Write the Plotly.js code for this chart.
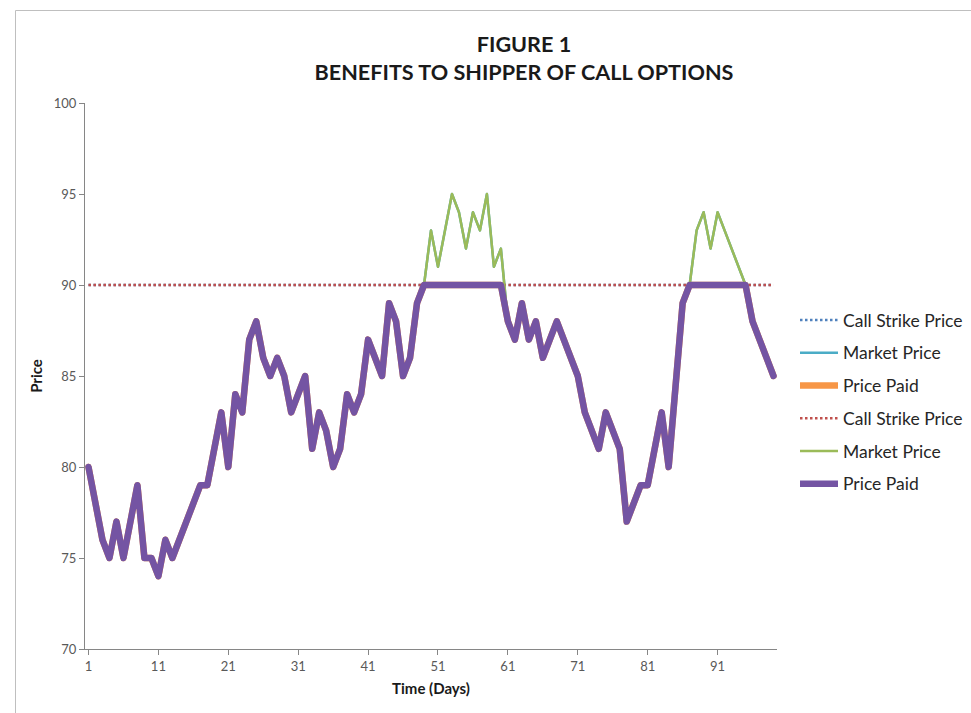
<!DOCTYPE html>
<html>
<head>
<meta charset="utf-8">
<script src="https://cdn.plot.ly/plotly-3.0.1.min.js"></script>
<style>
  html, body { margin: 0; padding: 0; background: #ffffff; }
  #chart { width: 971px; height: 713px; }
  .scatterlayer .js-line { stroke-linejoin: round; }
  .scatterlayer .trace.solid .js-line { stroke-linecap: round; }
</style>
</head>
<body>
<div id="chart"></div>
<script>
// Trading days
const days = [
   1,  2,  3,  4,  5,  6,  7,  8,  9, 10,
  11, 12, 13, 14, 15, 16, 17, 18, 19, 20,
  21, 22, 23, 24, 25, 26, 27, 28, 29, 30,
  31, 32, 33, 34, 35, 36, 37, 38, 39, 40,
  41, 42, 43, 44, 45, 46, 47, 48, 49, 50,
  51, 52, 53, 54, 55, 56, 57, 58, 59, 60,
  61, 62, 63, 64, 65, 66, 67, 68, 69, 70,
  71, 72, 73, 74, 75, 76, 77, 78, 79, 80,
  81, 82, 83, 84, 85, 86, 87, 88, 89, 90,
  91, 92, 93, 94, 95, 96, 97, 98, 99
];

// Spot market price per day
const marketPrice = [
  80, 78, 76, 75, 77, 75, 77, 79, 75, 75,
  74, 76, 75, 76, 77, 78, 79, 79, 81, 83,
  80, 84, 83, 87, 88, 86, 85, 86, 85, 83,
  84, 85, 81, 83, 82, 80, 81, 84, 83, 84,
  87, 86, 85, 89, 88, 85, 86, 89, 90, 93,
  91, 93, 95, 94, 92, 94, 93, 95, 91, 92,
  88, 87, 89, 87, 88, 86, 87, 88, 87, 86,
  85, 83, 82, 81, 83, 82, 81, 77, 78, 79,
  79, 81, 83, 80, 85, 89, 90, 93, 94, 92,
  94, 93, 92, 91, 90, 88, 87, 86, 85
];

// Price actually paid by the shipper holding the call (capped at the strike)
const pricePaid = [
  80, 78, 76, 75, 77, 75, 77, 79, 75, 75,
  74, 76, 75, 76, 77, 78, 79, 79, 81, 83,
  80, 84, 83, 87, 88, 86, 85, 86, 85, 83,
  84, 85, 81, 83, 82, 80, 81, 84, 83, 84,
  87, 86, 85, 89, 88, 85, 86, 89, 90, 90,
  90, 90, 90, 90, 90, 90, 90, 90, 90, 90,
  88, 87, 89, 87, 88, 86, 87, 88, 87, 86,
  85, 83, 82, 81, 83, 82, 81, 77, 78, 79,
  79, 81, 83, 80, 85, 89, 90, 90, 90, 90,
  90, 90, 90, 90, 90, 88, 87, 86, 85
];

// Call strike price
const strikePrice = days.map(() => 90);

const xTicks = [1, 11, 21, 31, 41, 51, 61, 71, 81, 91];
const yTicks = [70, 75, 80, 85, 90, 95, 100];

const FONT = 'Lato, "Open Sans", sans-serif';

function series(name, y, color, width, dash, group) {
  return {
    type: 'scatter', mode: 'lines', name: name, x: days, y: y,
    legendgroup: group,
    line: { color: color, width: width, dash: dash || 'solid' },
    hoverinfo: 'x+y'
  };
}

const traces = [
  series('Call Strike Price', strikePrice, '#4F81BD', 2.5, '2.5px,2.5px', 'g1'),
  series('Market Price', marketPrice, '#4BACC6', 2.5, null, 'g2'),
  series('Price Paid', pricePaid, '#F79646', 6.5, null, 'g3'),
  series('Call Strike Price', strikePrice, '#C0504D', 2.5, '2.5px,2.5px', 'g4'),
  series('Market Price', marketPrice, '#9BBB59', 2.5, null, 'g5'),
  series('Price Paid', pricePaid, '#7454A3', 6.5, null, 'g6')
];

// plot area in pixels: left 85, right 777, top 103, bottom 649
const L = 85, R = 777, T = 103, B = 649, W = 971, H = 713;
const px = v => (v - L) / (R - L);
const py = v => (B - v) / (B - T);

const layout = {
  width: W, height: H,
  margin: { l: L, r: W - R, t: T, b: H - B, pad: 0 },
  paper_bgcolor: '#ffffff',
  plot_bgcolor: '#ffffff',
  font: { family: FONT, color: '#595959', size: 13 },
  title: {
    text: 'FIGURE 1<br>BENEFITS TO SHIPPER OF CALL OPTIONS',
    font: { family: FONT, size: 21.6, color: '#1a1a1a', weight: 'bold' },
    xref: 'container', x: 524 / W, xanchor: 'center',
    yref: 'container', y: 1 - 52 / H, yanchor: 'top'
  },
  xaxis: {
    range: [0.5, 99.5],
    tickmode: 'array', tickvals: xTicks, ticktext: xTicks.map(String),
    ticks: 'outside', ticklen: 5, tickcolor: '#868686', tickwidth: 1,
    showline: true, linecolor: '#868686', linewidth: 1,
    showgrid: false, zeroline: false,
    tickfont: { family: FONT, size: 13, color: '#595959' },
    title: { text: 'Time (Days)', font: { family: FONT, size: 15, color: '#1a1a1a', weight: 'bold' }, standoff: 10 }
  },
  yaxis: {
    range: [70, 100],
    tickmode: 'array', tickvals: yTicks, ticktext: yTicks.map(String),
    ticks: 'outside', ticklen: 5, tickcolor: '#868686', tickwidth: 1,
    showline: true, linecolor: '#868686', linewidth: 1,
    showgrid: false, zeroline: false,
    tickfont: { family: FONT, size: 13, color: '#595959' },
    title: { text: 'Price', font: { family: FONT, size: 15, color: '#1a1a1a', weight: 'bold' }, standoff: 7 }
  },
  legend: {
    xref: 'container', x: 795 / W, xanchor: 'left',
    yref: 'container', y: 1 - 302 / H, yanchor: 'top',
    traceorder: 'grouped', tracegroupgap: 7,
    font: { family: FONT, size: 17.5, color: '#262626' },
    bgcolor: 'rgba(0,0,0,0)', borderwidth: 0,
    itemwidth: 38
  },
  showlegend: true,
  shapes: [{
    type: 'rect', xref: 'paper', yref: 'paper', layer: 'below',
    x0: px(15.5), x1: px(990), y0: py(730), y1: py(10.5),
    line: { color: '#BFBFBF', width: 1 }, fillcolor: 'rgba(0,0,0,0)'
  }]
};

Plotly.newPlot('chart', traces, layout, { displayModeBar: false, staticPlot: true }).then(gd => {
  // round caps on the solid price lines
  const tr = gd.querySelectorAll('.scatterlayer .trace');
  tr.forEach((t, i) => { if (i % 3 !== 0) t.classList.add('solid'); });
});
</script>
</body>
</html>
